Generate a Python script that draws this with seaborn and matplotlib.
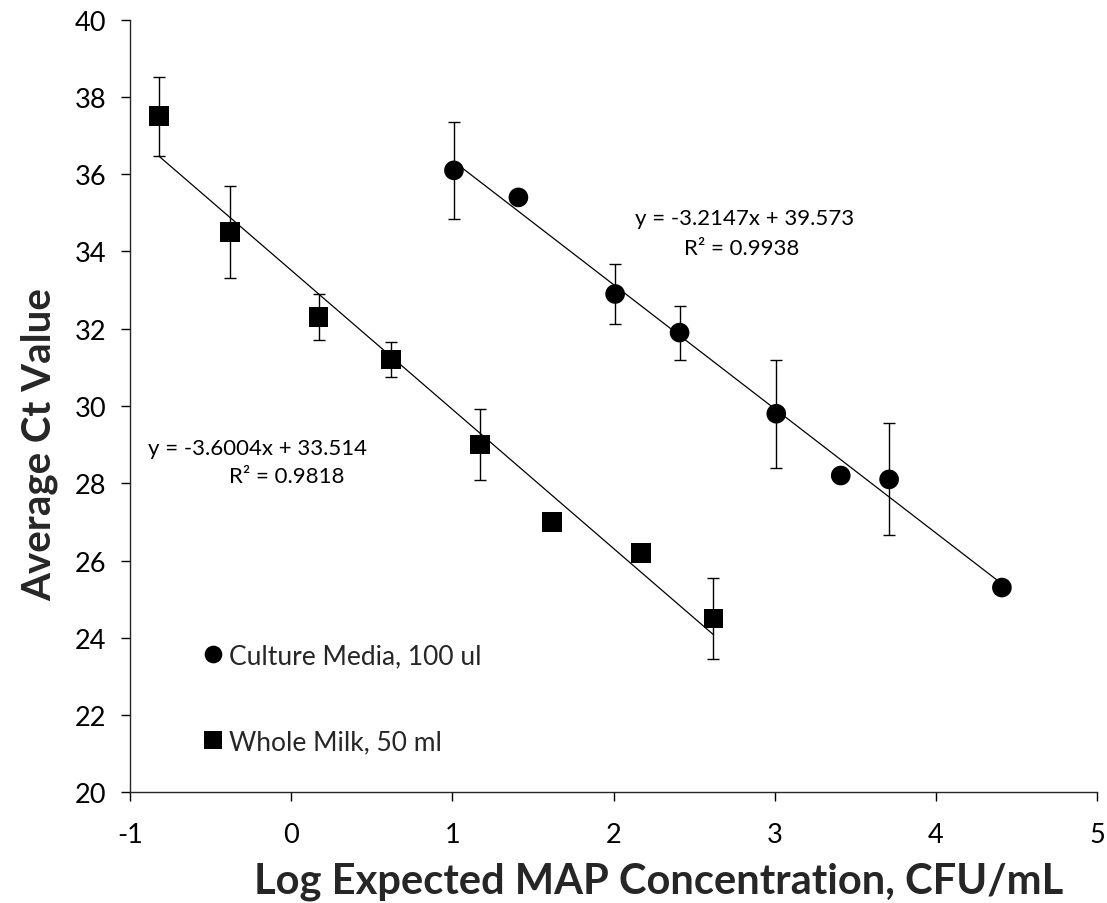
import numpy as np
import pandas as pd
import matplotlib
matplotlib.use("Agg")
import matplotlib.pyplot as plt
import seaborn as sns

# ---- data ----
cm_x = [1.01, 1.41, 2.01, 2.41, 3.01, 3.41, 3.71, 4.41]
cm_y = [36.1, 35.4, 32.9, 31.9, 29.8, 28.2, 28.1, 25.3]
cm_err = [1.26, np.nan, 0.77, 0.70, 1.40, np.nan, 1.45, np.nan]

wm_x = [-0.82, -0.38, 0.17, 0.62, 1.17, 1.62, 2.17, 2.62]
wm_y = [37.5, 34.5, 32.3, 31.2, 29.0, 27.0, 26.2, 24.5]
wm_err = [1.02, 1.19, 0.60, 0.46, 0.91, np.nan, np.nan, 1.05]

series_names = ["Culture Media, 100 ul", "Whole Milk, 50 ml"]
fit_slope = [-3.2147, -3.6004]
fit_intercept = [39.573, 33.514]
fit_r2 = ["0.9938", "0.9818"]

x_ticks = [-1, 0, 1, 2, 3, 4, 5]
y_ticks = list(range(20, 41, 2))
x_label = "Log Expected MAP Concentration, CFU/mL"
y_label = "Average Ct Value"

# ---- style ----
sns.set_style("ticks")
plt.rcParams["font.family"] = ["Lato", "DejaVu Sans"]
plt.rcParams["axes.linewidth"] = 1.0
plt.rcParams["axes.unicode_minus"] = False

df = pd.concat([
    pd.DataFrame({"x": cm_x, "y": cm_y, "err": cm_err, "series": series_names[0]}),
    pd.DataFrame({"x": wm_x, "y": wm_y, "err": wm_err, "series": series_names[1]}),
], ignore_index=True)

fig = plt.figure(figsize=(11.07, 9.04), dpi=100)
ax = fig.add_axes([130 / 1107, 110.7 / 904, 967 / 1107, 772.6 / 904])

# error bars
for name in series_names:
    sub = df[(df.series == name) & df.err.notna()]
    ax.errorbar(sub.x, sub.y, yerr=sub.err, fmt="none", ecolor="black",
                elinewidth=1.0, capsize=4, capthick=1.0, zorder=2)

# trendlines
for name, m, b in zip(series_names, fit_slope, fit_intercept):
    sub = df[df.series == name]
    xs = np.array([sub.x.min(), sub.x.max()])
    line_df = pd.DataFrame({"x": xs, "y": m * xs + b})
    sns.lineplot(data=line_df, x="x", y="y", ax=ax, color="black",
                 linewidth=0.9, zorder=3, legend=False)

# markers
sns.scatterplot(data=df, x="x", y="y", style="series",
                markers={series_names[0]: "o", series_names[1]: "s"},
                color="black", s=200, edgecolor="black", linewidth=0,
                ax=ax, zorder=4)

# equations
eq_kw = dict(fontsize=16, color="black", ha="center", va="baseline")
ax.text(2.815, 34.71, f"y = {fit_slope[0]}x + {fit_intercept[0]}", **eq_kw)
ax.text(2.797, 33.93, f"R² = {fit_r2[0]}", **eq_kw)
ax.text(-0.206, 28.76, f"y = {fit_slope[1]}x + {fit_intercept[1]}", **eq_kw)
ax.text(-0.026, 28.02, f"R² = {fit_r2[1]}", **eq_kw)

ax.set_xlim(-1, 5)
ax.set_ylim(20, 40)
ax.set_xticks(x_ticks)
ax.set_yticks(y_ticks)
ax.tick_params(axis="both", labelsize=19.5, length=6.5, width=1.0, colors="black")
ax.tick_params(axis="x", pad=15)
ax.tick_params(axis="y", pad=10.5)
ax.set_xlabel(x_label, fontsize=30, fontweight="bold")
ax.set_ylabel(y_label, fontsize=29, fontweight="bold")
ax.xaxis.set_label_coords(0.5465, -0.089)
ax.yaxis.set_label_coords(-0.0745, 0.451)
sns.despine(ax=ax)

leg = ax.legend(loc="upper left", bbox_to_anchor=(0.0776, 0.193), frameon=False,
                fontsize=19, handletextpad=0.3, labelspacing=2.3,
                borderpad=0, borderaxespad=0, markerscale=0.9, handlelength=0.6)

fig.savefig("out.png", dpi=100)
